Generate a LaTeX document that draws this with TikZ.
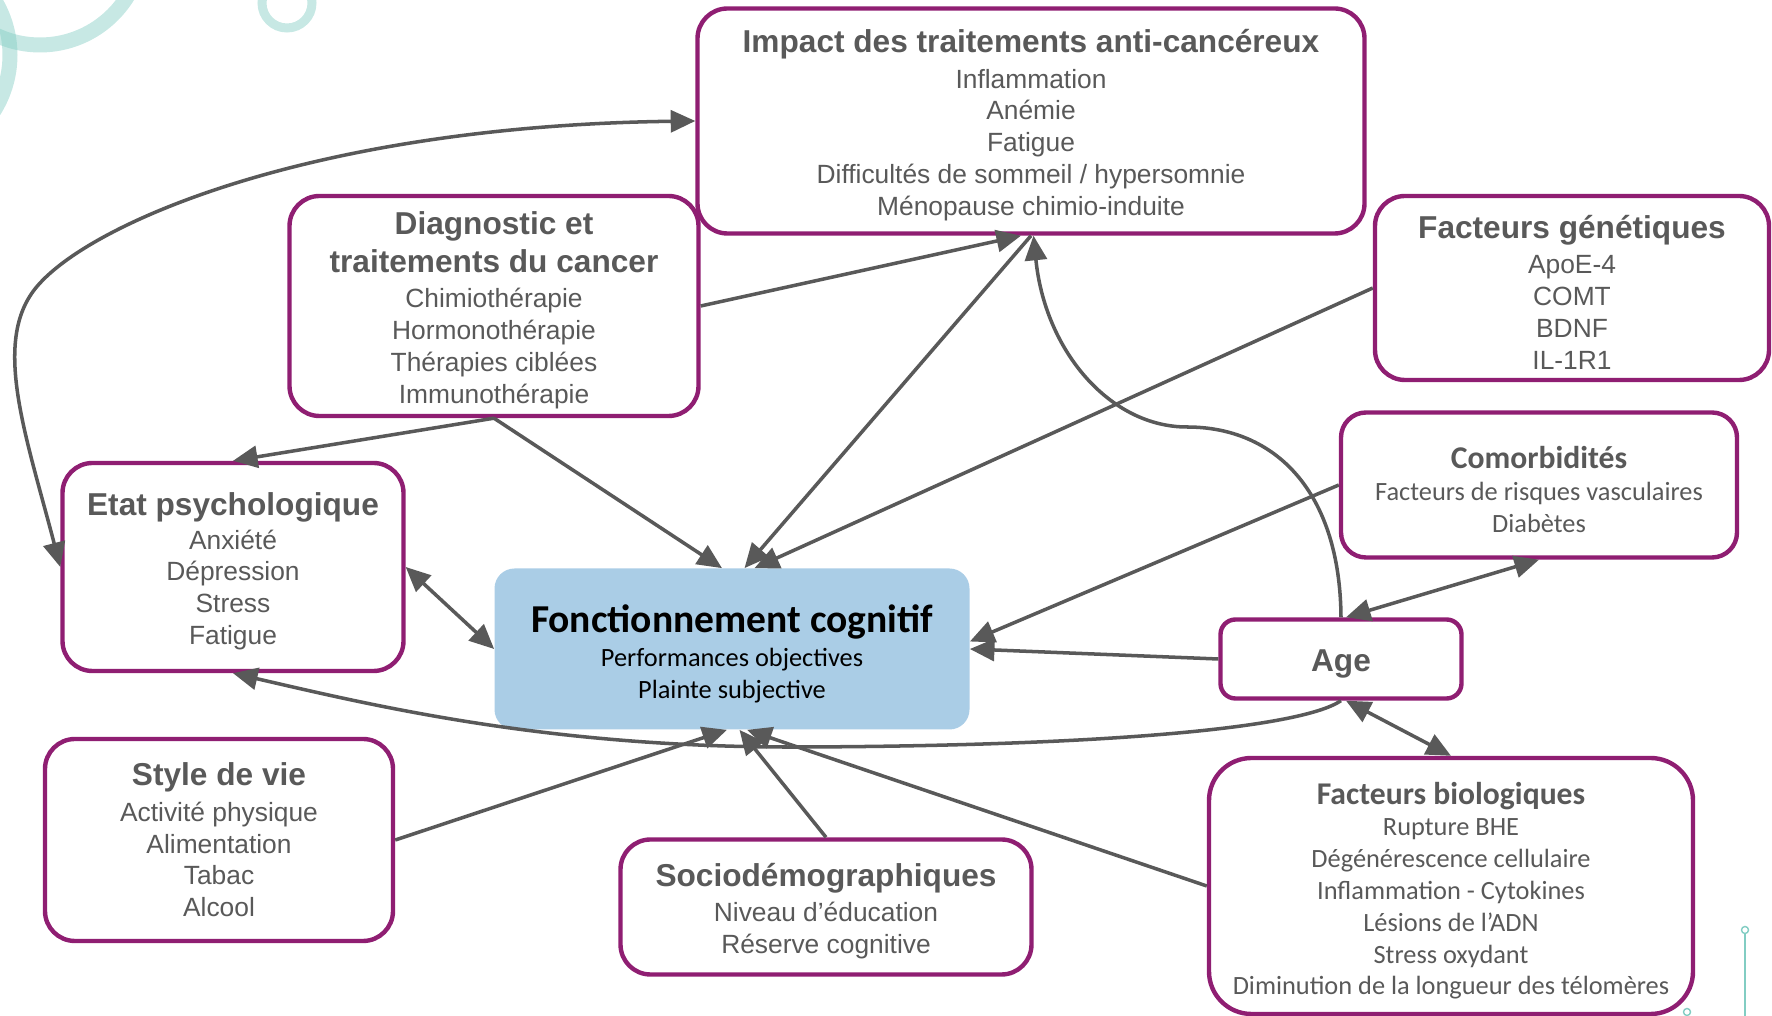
\documentclass[tikz,border=0pt]{standalone}
\usepackage{fontspec}
\setmainfont{Liberation Sans}
\newfontfamily\calib{Carlito}
\usetikzlibrary{arrows.meta}

\definecolor{boxpurple}{RGB}{143,30,114}
\definecolor{txtgray}{RGB}{89,89,89}
\definecolor{linkgray}{RGB}{89,89,89}
\definecolor{cogblue}{RGB}{170,205,230}
\definecolor{decoteal}{RGB}{130,205,195}

\begin{document}
\begin{tikzpicture}[> = {Triangle[length=14pt, width=12.5pt]},
    box/.style = {draw=boxpurple, line width=2.5pt, rounded corners=0.6cm, fill=white,
        align=center, text=txtgray, inner sep=0pt, font=\fontsize{15}{18.1}\selectfont},
    cbox/.style = {box, font=\calib\fontsize{15}{18.1}\selectfont},
    link/.style = {draw=linkgray, line width=2pt}]

    \def\ttl#1{{\fontsize{18}{21.5}\selectfont\bfseries\rule{0pt}{18pt}#1}}
    \def\ttlx#1{{\fontsize{18}{21.5}\selectfont\bfseries #1}}

    \useasboundingbox (0, 0) rectangle (35.44, 20.32);

    % Decoration
    \begin{scope}[decoteal, opacity=0.45, line width=0.3cm]
        \draw (0.8, 21.48) circle (2.06);
        \draw (-1.9, 19.22) circle (2.1);
    \end{scope}
    \draw [decoteal, opacity=0.45, line width=0.18cm] (5.74, 20.26) circle (0.5);
    \draw [decoteal, line width=0.8pt] (34.9, 0) -- (34.9, 1.72);
    \draw [decoteal, line width=0.8pt, fill=white] (34.9, 1.72) circle (0.07);
    \draw [decoteal, line width=0.8pt, fill=white] (33.74, 0.08) circle (0.07);

    % Factors
    \node [box, minimum width=13.34cm, minimum height=4.5cm] (impact) at (20.62, 17.90)
        {\ttl{Impact des traitements anti-cancéreux}\\[2pt] Inflammation\\ Anémie\\ Fatigue\\
         Difficultés de sommeil / hypersomnie\\ Ménopause chimio-induite};
    \node [box, minimum width=8.18cm, minimum height=4.4cm] (diag) at (9.88, 14.20)
        {\ttl{Diagnostic et}\\[3.4pt] \ttlx{traitements du cancer}\\[2pt] Chimiothérapie\\
         Hormonothérapie\\ Thérapies ciblées\\ Immunothérapie};
    \node [box, minimum width=7.88cm, minimum height=3.68cm] (gen) at (31.44, 14.56)
        {\ttl{Facteurs génétiques}\\[2pt] ApoE-4\\ COMT\\ BDNF\\ IL-1R1};
    \node [cbox, rounded corners=0.5cm, minimum width=7.92cm, minimum height=2.9cm] (comorb) at (30.78, 10.62)
        {\ttl{Comorbidités}\\ Facteurs de risques vasculaires\\ Diabètes};
    \node [box, minimum width=6.82cm, minimum height=4.16cm] (etat) at (4.66, 8.98)
        {\ttl{Etat psychologique}\\[1pt] Anxiété\\ Dépression\\ Stress\\ Fatigue};
    \node [box, rounded corners=0.3cm, minimum width=4.82cm, minimum height=1.58cm] (age) at (26.82, 7.14)
        {\ttl{Age}};
    \node [box, minimum width=6.96cm, minimum height=4.04cm] (style) at (4.38, 3.52)
        {\ttlx{Style de vie}\\[2pt] Activité physique\\ Alimentation\\ Tabac\\ Alcool};
    \node [box, minimum width=8.22cm, minimum height=2.7cm] (socio) at (16.52, 2.18)
        {\ttl{Sociodémographiques}\\[2pt] Niveau d’éducation\\ Réserve cognitive};
    \node [cbox, rounded corners=0.85cm, minimum width=9.68cm, minimum height=5.12cm] (bio) at (29.02, 2.6)
        {\ttl{Facteurs biologiques}\\ Rupture BHE\\ Dégénérescence cellulaire\\
         Inflammation - Cytokines\\ Lésions de l’ADN\\ Stress oxydant\\
         Diminution de la longueur des télomères};

    % Outcome
    \node [fill=cogblue, rounded corners=0.4cm, align=center, inner sep=0pt,
        minimum width=9.5cm, minimum height=3.22cm, font=\calib\fontsize{15}{18.1}\selectfont] (fonct) at (14.64, 7.34)
        {{\fontsize{22.5}{27}\selectfont\bfseries\rule{0pt}{21pt}Fonctionnement cognitif}\\[1.2pt]
         Performances objectives\\ Plainte subjective};

    % Links
    \draw [link, <->] (etat.west) .. controls (0.55, 11.5) and (-0.1, 13.3) .. (0.6, 14.4)
        .. controls (1.4, 15.7) and (6, 17.8) .. (impact.west);
    \draw [link, ->] (diag.east) -- ([xshift=-0.2cm]impact.south);
    \draw [link, ->] (impact.south) -- ([xshift=0.25cm]fonct.north);
    \draw [link, ->] (diag.south) -- (etat.north);
    \draw [link, ->] (diag.south) -- ([xshift=-0.2cm]fonct.north);
    \draw [link, ->] (gen.west) -- ([xshift=0.45cm]fonct.north);
    \draw [link, ->] (age.north) .. controls (26.8, 10.5) and (25.5, 11.78) .. (23.74, 11.78)
        .. controls (22.2, 11.78) and (20.9, 13.3) .. ([xshift=0.05cm]impact.south);
    \draw [link, ->] (comorb.west) -- ([yshift=0.15cm]fonct.east);
    \draw [link, <->] ([xshift=0.1cm]age.north) -- (comorb.south);
    \draw [link, ->] (age.west) -- (fonct.east);
    \draw [link, ->] (age.south) .. controls (26.0, 5.75) and (22, 5.4) .. (16, 5.38)
        .. controls (11, 5.36) and (7.5, 6.2) .. (etat.south);
    \draw [link, <->] ([xshift=0.1cm]age.south) -- (bio.north);
    \draw [link, ->] (style.east) -- ([xshift=-0.1cm]fonct.south);
    \draw [link, ->] (socio.north) -- ([xshift=0.15cm]fonct.south);
    \draw [link, ->] (bio.west) -- ([xshift=0.3cm]fonct.south);
    \draw [link, <->] (etat.east) -- (fonct.west);
\end{tikzpicture}
\end{document}
